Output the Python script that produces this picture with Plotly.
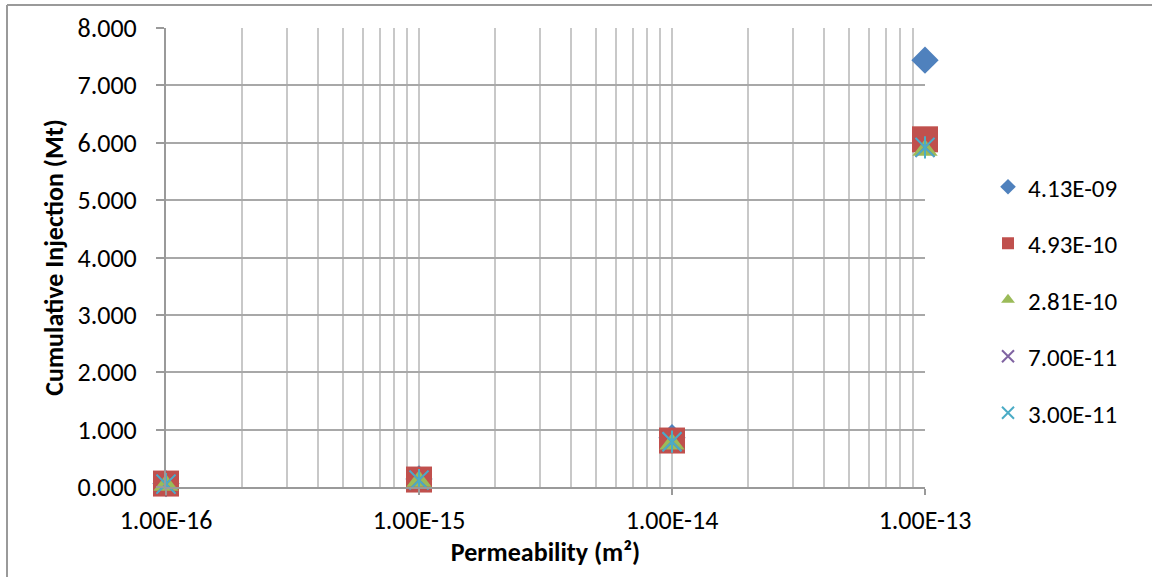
import plotly.graph_objects as go

# Permeability (m^2) at which each case was run
permeability = [1e-16, 1e-15, 1e-14, 1e-13]

# Cumulative injection (Mt) for each series
series_names = ["4.13E-09", "4.93E-10", "2.81E-10", "7.00E-11", "3.00E-11"]
inj_413e09 = [0.06, 0.14, 0.86, 7.44]
inj_493e10 = [0.06, 0.13, 0.81, 6.06]
inj_281e10 = [0.03, 0.10, 0.75, 5.87]
inj_700e11 = [0.05, 0.12, 0.79, 5.92]
inj_300e11 = [0.05, 0.12, 0.79, 5.92]

y_ticks = [0, 1, 2, 3, 4, 5, 6, 7, 8]
y_tick_text = ["0.000", "1.000", "2.000", "3.000", "4.000", "5.000", "6.000", "7.000", "8.000"]
x_major = [1e-16, 1e-15, 1e-14, 1e-13]
x_major_text = ["1.00E-16", "1.00E-15", "1.00E-14", "1.00E-13"]

data = [inj_413e09, inj_493e10, inj_281e10, inj_700e11, inj_300e11]
styles = [
    dict(symbol="diamond", color="#4F81BD", size=21),
    dict(symbol="square", color="#C0504D", size=26),
    dict(symbol="triangle-up", color="#9BBB59", size=22),
    dict(symbol="x-thin", color="#8064A2", size=19),
    dict(symbol="x-thin", color="#4BACC6", size=19),
]

FONT = "Carlito, Calibri, Lato, sans-serif"

fig = go.Figure()
for i, (name, ys, st) in enumerate(zip(series_names, data, styles)):
    if st["symbol"].endswith("thin"):
        marker = dict(symbol=st["symbol"], size=st["size"], color=st["color"],
                      line=dict(width=2, color=st["color"]))
    else:
        marker = dict(symbol=st["symbol"], size=st["size"], color=st["color"],
                      line=dict(width=0))
    fig.add_trace(go.Scatter(x=permeability, y=ys, mode="markers", name=name,
                             legendgroup=name, marker=marker, cliponaxis=False))
    if name == "3.00E-11":
        # vertical stroke that turns the cross into an asterisk
        fig.add_trace(go.Scatter(x=permeability, y=ys, mode="markers", name=name,
                                 legendgroup=name, showlegend=False, cliponaxis=False,
                                 marker=dict(symbol="line-ns", size=16,
                                             line=dict(width=2, color=st["color"]))))

# minor gridlines on the log axis: 2..9 per decade
minor_vals = [m * 10.0 ** d for d in range(-16, -13) for m in range(2, 10)]

L, R, T, B = 166, 227, 28, 90
W, H = 1152, 577
pw, ph = W - L - R, H - T - B

fig.update_layout(
    width=W, height=H,
    margin=dict(l=L, r=R, t=T, b=B),
    paper_bgcolor="white", plot_bgcolor="white",
    font=dict(family=FONT, size=26, color="black"),
    showlegend=True,
    legend=dict(x=(988 - L) / pw, y=1 - (300 - T) / ph, xanchor="left", yanchor="middle",
                font=dict(size=25), tracegroupgap=21, itemsizing="constant",
                bgcolor="rgba(0,0,0,0)", borderwidth=0),
    xaxis=dict(type="log", range=[-16.00001, -12.99999], tickvals=x_major, ticktext=x_major_text,
               showgrid=True, gridcolor="#C8C8C8", gridwidth=2,
               minor=dict(tickvals=minor_vals, showgrid=True, gridcolor="#C8C8C8", gridwidth=2, ticks=""),
               showline=True, linecolor="#9A9A9A", linewidth=2,
               ticks="outside", ticklen=6, tickcolor="#9A9A9A", tickwidth=2,
               ticklabelstandoff=3, zeroline=False,
               title=dict(text="<b>Permeability (m²)</b>", font=dict(size=26), standoff=3)),
    yaxis=dict(range=[0, 8], tickvals=y_ticks, ticktext=y_tick_text,
               showgrid=True, gridcolor="#A8A8A8", gridwidth=2,
               showline=True, linecolor="#9A9A9A", linewidth=2,
               ticks="outside", ticklen=8, tickcolor="#9A9A9A", tickwidth=2,
               ticklabelstandoff=14, zeroline=False,
               title=dict(text="<b>Cumulative Injection (Mt)</b>", font=dict(size=26), standoff=6)),
)

# chart frame edges (top and left)
fig.add_shape(type="line", xref="paper", yref="paper",
              x0=(7 - L) / pw, x1=(W - L) / pw, y0=1 + (T - 5) / ph, y1=1 + (T - 5) / ph,
              line=dict(color="#9A9A9A", width=2))
fig.add_shape(type="line", xref="paper", yref="paper",
              x0=(7 - L) / pw, x1=(7 - L) / pw, y0=1 + (T - 5) / ph, y1=-B / ph,
              line=dict(color="#9A9A9A", width=2))

fig.write_html("out.html")
